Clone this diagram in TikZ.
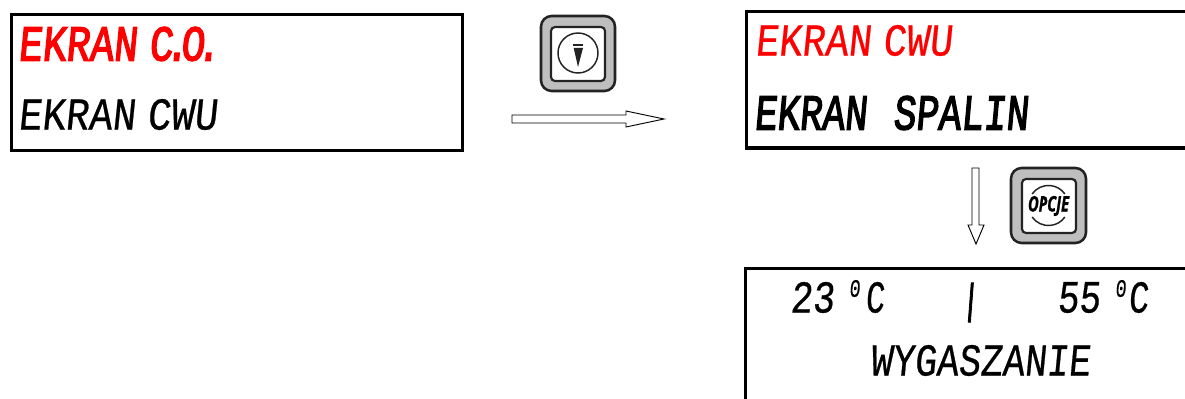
\documentclass[tikz,border=0pt]{standalone}
\usepackage{graphicx}
\usepackage{fontspec}
\setmainfont{Liberation Sans}
\newfontfamily\lcdthin[FakeSlant=0.12,FakeBold=0.6]{Liberation Mono}
\newfontfamily\lcdbold[FakeSlant=0.12,FakeBold=3]{Liberation Mono}
\newfontfamily\keyfont[FakeStretch=0.72,FakeBold=1]{Open Sans}
\definecolor{keygrey}{RGB}{190,190,190}
\definecolor{keyline}{RGB}{35,35,35}
\definecolor{lcdred}{RGB}{255,0,0}
\newcommand{\lcdtext}[7]{% name, x, y(top), w, h, style, text
  \node[lcdnode,#6] (#1) at (#2,#3+#5) {\resizebox*{\dimexpr #4pt*3/4\relax}{\dimexpr #5pt*3/4\relax}{#7}};}
\newcommand{\dotk}{\kern-.2em.\kern-.2em}
\newcommand{\gapk}{\ \kern-.3em}
\tikzset{
  x=0.75pt,y=-0.75pt,
  lcdnode/.style={anchor=south west,inner sep=0pt,outer sep=0pt},
  redtxt/.style={text=lcdred},
  blacktxt/.style={text=black},
  framebox/.style={draw=black,line width=2.4pt},
  blockarrow/.style={draw=black,line width=0.7pt,fill=white,line join=miter},
  keyouter/.style={draw=keyline,line width=1.9pt,fill=keygrey,rounded corners=8pt},
  keyinner/.style={draw=keyline,line width=1.6pt,fill=white,rounded corners=3pt},
  keyring/.style={draw=keyline,line width=1.1pt},
}
\begin{document}
\begin{tikzpicture}
\useasboundingbox (0,0) rectangle (1185,399);
% frames
\draw[framebox] (11.5,14.5) rectangle (462.5,150.5);
\draw[framebox] (1190,11.5) -- (746.5,11.5) -- (746.5,148) -- (1190,148);
\draw[framebox] (1190,268.5) -- (745.5,268.5) -- (745.5,405);
% screen 1
\lcdtext{a}{18}{27}{194}{34}{redtxt}{\lcdbold EKRAN\gapk C\dotk O\dotk}
\lcdtext{b}{18}{99}{199}{31}{blacktxt}{\lcdthin EKRAN\gapk CWU}
% screen 2
\lcdtext{c}{755}{25}{197}{31}{redtxt}{\lcdthin EKRAN\gapk CWU}
\lcdtext{d}{754}{96}{274}{34}{blacktxt}{\lcdbold EKRAN\ \kern.1em SPALIN}
% screen 3
\lcdtext{e1}{790}{282}{44}{31}{blacktxt}{\lcdthin 23}
\lcdtext{e2}{849}{280}{11}{17}{blacktxt}{\lcdthin 0}
\lcdtext{e3}{865}{282}{19}{31}{blacktxt}{\lcdthin C}
\lcdtext{f}{962}{283}{16}{39}{blacktxt}{\lcdbold |}
\lcdtext{g1}{1057}{282}{43}{31}{blacktxt}{\lcdthin 55}
\lcdtext{g2}{1115}{280}{11}{17}{blacktxt}{\lcdthin 0}
\lcdtext{g3}{1128}{282}{20}{31}{blacktxt}{\lcdthin C}
\lcdtext{h}{870}{345}{220}{31}{blacktxt}{\lcdthin WYGASZANIE}
% key 1
\draw[keyouter] (541,16) rectangle (615,91);
\draw[keyinner] (551,27) rectangle (605,81);
\draw[keyring] (578,53) circle (20);
\fill[keyline] (573,44.5) rectangle (583,46.2);
\fill[keyline] (573.7,48) -- (583,48) -- (578,67) -- cycle;
% arrow right
\draw[blockarrow] (512,115) -- (626,115) -- (626,111) -- (664,119) -- (626,127) -- (626,123) -- (512,123) -- cycle;
% arrow down
\draw[blockarrow] (972,168) -- (979,168) -- (979,225) -- (984,225) -- (976,244) -- (968,225) -- (972,225) -- cycle;
% key 2
\draw[keyouter] (1011,168) rectangle (1086,243);
\draw[keyinner] (1022,179) rectangle (1076,233);
\draw[keyring] (1032.1,194) arc[start angle=215,end angle=325,radius=20];
\draw[keyring] (1032.1,217) arc[start angle=145,end angle=35,radius=20];
\lcdtext{k}{1028}{196}{41}{20}{blacktxt}{\keyfont\bfseries\itshape OPCJE}
\end{tikzpicture}
\end{document}
